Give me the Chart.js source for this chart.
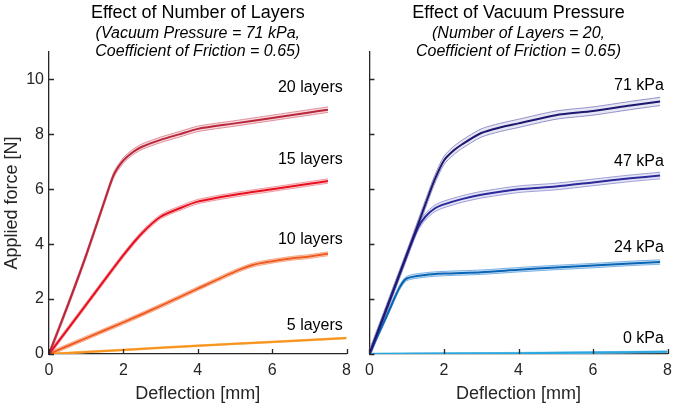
<!DOCTYPE html>
<html>
<head>
<meta charset="utf-8">
<script src="https://cdn.jsdelivr.net/npm/chart.js@4"></script>
<style>
  html, body { margin: 0; padding: 0; background: #fff; }
  #wrap { position: relative; width: 679px; height: 407px; }
  .panel { position: absolute; top: 0; height: 407px; }
</style>
</head>
<body>
<div id="wrap">
  <div class="panel" style="left:0;width:358px"><canvas id="layersChart"></canvas></div>
  <div class="panel" style="left:358px;width:321px"><canvas id="vacuumChart"></canvas></div>
</div>
<script>
// deflection [mm] / applied force [N]
const defl20 = [0, 0.5, 1, 1.5, 1.75, 2, 2.25, 2.5, 3, 3.5, 4, 5, 6, 7, 7.5];
const force20 = [0, 1.75, 3.6, 5.6, 6.55, 7.05, 7.35, 7.55, 7.8, 8.0, 8.2, 8.4, 8.6, 8.8, 8.9];
const defl15 = [0, 1, 2, 2.5, 3, 3.5, 4, 5, 6, 7, 7.5];
const force15 = [0, 1.8, 3.6, 4.4, 5.0, 5.3, 5.55, 5.8, 6.0, 6.2, 6.3];
const defl10 = [0, 1, 2, 3, 4, 5, 5.5, 6, 6.5, 7, 7.5];
const force10 = [0, 0.58, 1.15, 1.75, 2.38, 3.0, 3.25, 3.38, 3.48, 3.55, 3.65];
const defl5 = [0, 2, 4, 6, 8];
const force5 = [0, 0.15, 0.3, 0.44, 0.58];

const defl71 = [0, 0.5, 1, 1.5, 1.75, 2, 2.25, 2.5, 3, 3.5, 4, 5, 6, 7, 7.8];
const force71 = [0, 1.8, 3.6, 5.45, 6.35, 7.05, 7.4, 7.65, 8.05, 8.25, 8.4, 8.7, 8.85, 9.05, 9.2];
const defl47 = [0, 0.5, 1, 1.3, 1.5, 1.75, 2, 2.5, 3, 4, 5, 6, 7, 7.8];
const force47 = [0, 1.8, 3.6, 4.6, 5.0, 5.3, 5.45, 5.65, 5.8, 6.0, 6.1, 6.25, 6.4, 6.5];
const defl24 = [0, 0.5, 0.8, 1, 1.5, 2, 3, 4, 5, 6, 7, 7.8];
const force24 = [0, 1.5, 2.4, 2.75, 2.88, 2.93, 2.98, 3.07, 3.15, 3.22, 3.3, 3.35];
const defl0 = [0, 4, 8];
const force0 = [0, 0.03, 0.08];

// half width of the shaded spread around each mean curve [N]
const spreadLayers = [0.1, 0.08, 0.07, 0.03];
const spreadVacuum = [0.15, 0.12, 0.08, 0.03];

const layerNames = ['20 layers', '15 layers', '10 layers', '5 layers'];
const vacuumNames = ['71 kPa', '47 kPa', '24 kPa', '0 kPa'];
const layerLabelY = [9.7, 7.08, 4.16, 1.02];
const vacuumLabelY = [9.78, 7.0, 3.87, 0.55];

const xTicks = [0, 2, 4, 6, 8];
const yTicks = [0, 2, 4, 6, 8, 10];

const ink = '#262626';
Chart.defaults.font.family = '"Liberation Sans", Arial, sans-serif';
Chart.defaults.color = ink;

function toPoints(xs, ys, shift) {
    return xs.map((x, i) => ({ x: x, y: ys[i] + shift }));
}

function buildDatasets(series) {
    const main = [];
    const bands = [];
    series.forEach(s => {
        main.push({
            data: toPoints(s.x, s.y, 0),
            borderColor: s.color,
            borderWidth: 2,
            pointRadius: 0,
            tension: 0.25,
            fill: false,
            order: 0
        });
        bands.push({
            data: toPoints(s.x, s.y, s.spread),
            borderColor: s.edge,
            borderWidth: 1,
            pointRadius: 0,
            tension: 0.25,
            fill: false,
            order: 1
        });
        bands.push({
            data: toPoints(s.x, s.y, -s.spread),
            borderColor: s.edge,
            backgroundColor: s.fill,
            borderWidth: 1,
            pointRadius: 0,
            tension: 0.25,
            fill: '-1',
            order: 1
        });
    });
    return main.concat(bands);
}

// inward tick marks (matlab style) and the curve labels
const decorPlugin = {
    id: 'decor',
    afterDraw(chart, args, opts) {
        const ctx = chart.ctx;
        const xs = chart.scales.x, ys = chart.scales.y;
        const area = chart.chartArea;
        ctx.save();
        ctx.strokeStyle = ink;
        ctx.lineWidth = 1.3;
        ctx.beginPath();
        xTicks.forEach(v => {
            const px = Math.round(xs.getPixelForValue(v)) + 0.5;
            ctx.moveTo(px, area.bottom);
            ctx.lineTo(px, area.bottom - 5);
        });
        yTicks.forEach(v => {
            const py = Math.round(ys.getPixelForValue(v)) + 0.5;
            ctx.moveTo(area.left, py);
            ctx.lineTo(area.left + 5, py);
        });
        ctx.stroke();

        ctx.fillStyle = '#000';
        ctx.font = '16px "Liberation Sans", Arial, sans-serif';
        ctx.textAlign = 'right';
        ctx.textBaseline = 'middle';
        opts.names.forEach((name, i) => {
            ctx.fillText(name, xs.getPixelForValue(7.9), ys.getPixelForValue(opts.labelY[i]));
        });
        ctx.restore();
    }
};

function makePanel(canvasId, series, title, subtitle, names, labelY, showY) {
    const canvas = document.getElementById(canvasId);
    new Chart(canvas.getContext('2d'), {
        type: 'line',
        data: { datasets: buildDatasets(series) },
        options: {
            responsive: true,
            maintainAspectRatio: false,
            animation: false,
            layout: { padding: showY ? { left: 0, right: 8, top: 0, bottom: 0 } : { left: 10, right: 10, top: 0, bottom: 0 } },
            plugins: {
                legend: { display: false },
                tooltip: { enabled: false },
                title: {
                    display: true,
                    text: title,
                    fullSize: false,
                    color: '#000',
                    font: { size: 18, weight: 'normal', lineHeight: 1.1 },
                    padding: { top: 3, bottom: 0 }
                },
                subtitle: {
                    display: true,
                    text: subtitle,
                    fullSize: false,
                    color: '#000',
                    font: { size: 16, style: 'italic', lineHeight: 1.1 },
                    padding: { top: 2, bottom: -8 }
                },
                decor: { names: names, labelY: labelY }
            },
            scales: {
                x: {
                    type: 'linear',
                    min: 0,
                    max: 8,
                    grid: { display: false, drawTicks: false },
                    border: { display: true, color: ink, width: 1.3 },
                    ticks: { stepSize: 2, padding: 7, font: { size: 16 }, color: ink },
                    title: { display: true, text: 'Deflection [mm]', color: ink, font: { size: 18 }, padding: { top: 0, bottom: 2 } },
                    afterFit: scale => { scale.height = 53; }
                },
                y: {
                    type: 'linear',
                    min: 0,
                    max: 11,
                    grid: { display: false, drawTicks: false },
                    border: { display: true, color: ink, width: 1.3 },
                    ticks: { display: showY, stepSize: 2, includeBounds: false, padding: 5, font: { size: 16 }, color: ink },
                    title: { display: showY, text: 'Applied force [N]', color: ink, font: { size: 18 }, padding: { top: 1, bottom: 0 } },
                    afterFit: scale => { scale.width = showY ? 49 : 0; }
                }
            }
        },
        plugins: [decorPlugin]
    });
}

makePanel('layersChart', [
    { x: defl20, y: force20, spread: spreadLayers[0], color: '#b8283a', edge: 'rgba(220,120,135,0.8)', fill: 'rgba(235,170,180,0.45)' },
    { x: defl15, y: force15, spread: spreadLayers[1], color: '#e8101e', edge: 'rgba(240,130,140,0.8)', fill: 'rgba(245,170,175,0.45)' },
    { x: defl10, y: force10, spread: spreadLayers[2], color: '#f05a1e', edge: 'rgba(245,150,110,0.8)', fill: 'rgba(248,185,150,0.45)' },
    { x: defl5, y: force5, spread: spreadLayers[3], color: '#f7941e', edge: 'rgba(250,190,120,0.8)', fill: 'rgba(250,200,140,0.45)' }
], 'Effect of Number of Layers', ['(Vacuum Pressure = 71 kPa,', 'Coefficient of Friction = 0.65)'], layerNames, layerLabelY, true);

makePanel('vacuumChart', [
    { x: defl71, y: force71, spread: spreadVacuum[0], color: '#1e1870', edge: 'rgba(140,135,195,0.9)', fill: 'rgba(200,200,230,0.45)' },
    { x: defl47, y: force47, spread: spreadVacuum[1], color: '#2a2a9a', edge: 'rgba(150,150,210,0.9)', fill: 'rgba(195,195,235,0.45)' },
    { x: defl24, y: force24, spread: spreadVacuum[2], color: '#0a64b4', edge: 'rgba(110,170,225,0.9)', fill: 'rgba(150,195,235,0.45)' },
    { x: defl0, y: force0, spread: spreadVacuum[3], color: '#29a8e0', edge: 'rgba(130,200,235,0.9)', fill: 'rgba(160,210,240,0.45)' }
], 'Effect of Vacuum Pressure', ['(Number of Layers = 20,', 'Coefficient of Friction = 0.65)'], vacuumNames, vacuumLabelY, false);
</script>
</body>
</html>
